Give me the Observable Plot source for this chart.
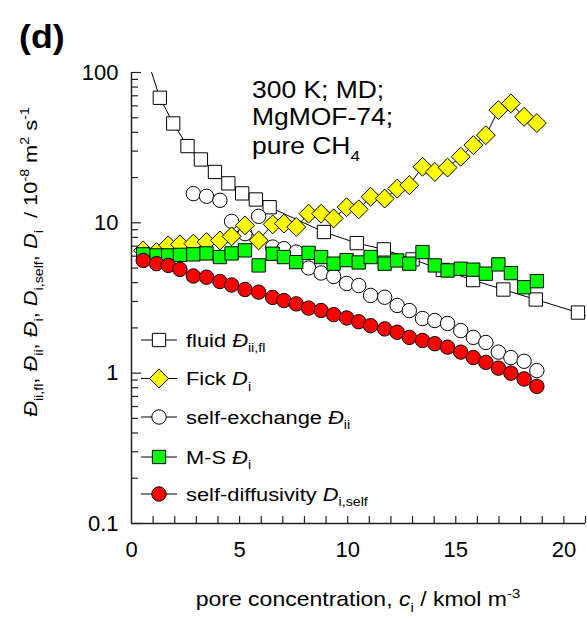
<!DOCTYPE html>
<html><head><meta charset="utf-8">
<script src="https://cdn.jsdelivr.net/npm/d3@7"></script>
<script src="https://cdn.jsdelivr.net/npm/@observablehq/plot@0.6"></script>
<style>body{margin:0;background:#fff;} svg{display:block;}</style>
</head><body><div id="chart"></div>
<script>
const FONT = "'Liberation Sans', Arial, Helvetica, sans-serif";

// fluid Đii,fl (open squares, joined by a line)
const fluidX = [1.31,1.93,2.59,3.21,3.86,4.48,5.12,5.75,6.39,8.90,10.42,11.67,13.0,14.4,15.8,17.2,18.7,20.65];
const fluidY = [67.9,45.8,32.4,26.4,21.8,18.3,15.7,14.3,12.7,8.69,7.33,6.66,5.71,4.86,4.16,3.60,3.09,2.53];
// visible ends of the fluid curve
const fluidCurveStart = [0.93, 100];
const fluidCurveEnd = [21.0, 2.42];

// MD loadings (Fick, M-S, self-diffusivity)
const loading = [0.54,1.16,1.70,2.24,2.86,3.47,4.09,4.63,5.25,5.88,6.53,7.05,7.62,8.19,8.77,9.35,9.95,10.51,11.06,11.71,12.29,12.85,13.46,14.03,14.62,15.23,15.81,16.39,16.97,17.55,18.16,18.75];
const fickY = [6.56,6.39,7.08,7.19,7.27,7.45,7.64,8.13,9.62,7.64,9.77,9.88,9.38,11.5,11.5,10.7,12.7,12.3,14.9,14.5,16.9,17.8,23.6,21.8,23.3,27.5,32.9,38.3,56.2,62.3,50.7,46.1];
const msY = [6.17,6.07,6.07,6.12,6.17,6.26,5.92,6.26,6.56,5.21,6.23,5.92,5.48,6.31,5.92,5.35,5.65,5.45,5.92,5.35,5.62,5.35,6.39,5.21,4.82,4.95,4.88,4.59,5.29,4.63,3.73,4.09];
const selfDiffY = [5.62,5.35,5.21,4.90,4.43,4.35,4.07,3.86,3.60,3.46,3.19,3.04,2.89,2.71,2.61,2.45,2.33,2.20,2.07,1.97,1.87,1.73,1.65,1.57,1.49,1.38,1.27,1.18,1.08,1.00,0.915,0.817];

// self-exchange Đii (open circles)
const selfExchX = [2.86,3.47,4.09,4.63,5.25,5.88,6.53,7.05,7.62,8.19,8.77,9.35,9.95,10.51,11.06,11.71,12.29,12.85,13.46,14.03,14.62,15.23,15.81,16.39,16.97,17.55,18.16,18.75];
const selfExchY = [15.65,15.02,14.13,10.23,8.47,11.05,6.90,6.73,6.39,5.01,4.64,4.40,3.95,3.83,3.29,3.20,2.82,2.61,2.31,2.24,2.14,1.92,1.73,1.60,1.38,1.27,1.20,1.04];

// ticks
const xTicks = [0,5,10,15,20];
const xMinorTicks = [1,2,3,4,5,6,7,8,9,10,11,12,13,14,15,16,17,18,19,20,21];
const yTicks = [0.1,1,10,100];
const yMinorTicks = [0.2,0.3,0.4,0.5,0.6,0.7,0.8,0.9,2,3,4,5,6,7,8,9,20,30,40,50,60,70,80,90];

// build tables
const fluidPts = fluidX.map((x, i) => ({x, y: fluidY[i]}));
const fluidCurve = [{x: fluidCurveStart[0], y: fluidCurveStart[1]}, ...fluidPts, {x: fluidCurveEnd[0], y: fluidCurveEnd[1]}];
const fick = loading.map((x, i) => ({x, y: fickY[i]}));
const ms = loading.map((x, i) => ({x, y: msY[i]}));
const selfDiff = loading.map((x, i) => ({x, y: selfDiffY[i]}));
const selfExch = selfExchX.map((x, i) => ({x, y: selfExchY[i]}));

const YELLOW = "#ffff00", GREEN = "#00ff00", RED = "#ff0000";
const R_SQ = 7.5, R_DIA = 8.5, R_CIR = 7.2;

const chart = Plot.plot({
  width: 587, height: 617,
  marginLeft: 131, marginRight: 2, marginTop: 72, marginBottom: 94,
  style: {fontFamily: FONT, background: "white", overflow: "visible", color: "black"},
  x: {domain: [0, 21], label: null},
  y: {type: "log", domain: [0.1, 100], label: null},
  marks: [
    Plot.axisX({ticks: xTicks, tickSize: 0, tickPadding: 18, fontSize: 22, tickFormat: d => String(d), label: null}),
    Plot.axisY({ticks: yTicks, tickSize: 0, tickPadding: 13, fontSize: 22, tickFormat: d => String(d), label: null}),
    Plot.ruleX(xMinorTicks, {x: d => d, y1: 0.1, y2: 0.1, insetBottom: 7, stroke: "#222", strokeWidth: 1.2}),
    Plot.ruleY(yMinorTicks, {y: d => d, x1: 0, x2: 0, insetRight: -7, stroke: "#222", strokeWidth: 1.2}),
    Plot.ruleY(yTicks, {y: d => d, x1: 0, x2: 0, insetRight: -10, stroke: "#222", strokeWidth: 1.2}),
    Plot.ruleX([0], {stroke: "#222", strokeWidth: 1.5}),
    Plot.ruleY([0.1], {stroke: "#222", strokeWidth: 1.5}),
    // fluid
    Plot.line(fluidCurve, {x: "x", y: "y", stroke: "black", strokeWidth: 1}),
    Plot.dot(fluidPts, {x: "x", y: "y", symbol: "square", r: R_SQ, fill: "white", stroke: "black", strokeWidth: 1}),
    // self-exchange
    Plot.dot(selfExch, {x: "x", y: "y", symbol: "circle", r: R_CIR, fill: "white", stroke: "black", strokeWidth: 1}),
    // Fick
    Plot.line(fick, {x: "x", y: "y", stroke: "black", strokeWidth: 1}),
    Plot.dot(fick, {x: "x", y: "y", symbol: "diamond2", r: R_DIA, fill: YELLOW, stroke: "black", strokeWidth: 1}),
    // M-S
    Plot.dot(ms, {x: "x", y: "y", symbol: "square", r: R_SQ, fill: GREEN, stroke: "black", strokeWidth: 1}),
    // self-diffusivity
    Plot.dot(selfDiff, {x: "x", y: "y", symbol: "circle", r: R_CIR, fill: RED, stroke: "black", strokeWidth: 1})
  ]
});
document.getElementById("chart").appendChild(chart);

const svg = d3.select(chart);
const STRETCH = 1.15;

function richText(parent, segs, {x, y, size, anchor = "start", rotate = 0, stretch = STRETCH, weight = "normal"}) {
  const t = parent.append("text")
    .attr("transform", `translate(${x},${y})` + (rotate ? ` rotate(${rotate})` : "") + ` scale(${stretch},1)`)
    .attr("text-anchor", anchor)
    .attr("font-family", FONT)
    .attr("font-size", size)
    .attr("font-weight", weight)
    .attr("fill", "black");
  let shift = 0;
  for (const s of segs) {
    const target = s.sub ? 0.3 * size : s.sup ? -0.42 * size : 0;
    const ts = t.append("tspan").text(s.t)
      .attr("dy", target - shift)
      .attr("font-size", (s.sub || s.sup) ? size * 0.65 : size);
    if (s.i) ts.attr("font-style", "italic");
    shift = target;
  }
  return t;
}

// panel label
richText(svg, [{t: "(d)"}], {x: 19, y: 48, size: 34, weight: "bold", stretch: 1.05});

// annotation
richText(svg, [{t: "300 K; MD;"}], {x: 252, y: 98, size: 23});
richText(svg, [{t: "MgMOF-74;"}], {x: 252, y: 125, size: 23});
richText(svg, [{t: "pure CH"}, {t: "4", sub: 1}], {x: 252, y: 154, size: 23});

// axis titles
richText(svg, [{t: "pore concentration, "}, {t: "c", i: 1}, {t: "i", sub: 1}, {t: " / kmol m"}, {t: "-3", sup: 1}],
  {x: 358, y: 606, size: 20, anchor: "middle"});
richText(svg, [
  {t: "Đ", i: 1}, {t: "ii,fl", sub: 1}, {t: ", "},
  {t: "Đ", i: 1}, {t: "ii", sub: 1}, {t: ", "},
  {t: "Đ", i: 1}, {t: "i", sub: 1}, {t: ", "},
  {t: "D", i: 1}, {t: "i,self", sub: 1}, {t: ", "},
  {t: "D", i: 1}, {t: "i", sub: 1}, {t: "  / 10"}, {t: "-8", sup: 1},
  {t: " m"}, {t: "2", sup: 1}, {t: " s"}, {t: "-1", sup: 1}
], {x: 37, y: 262, size: 19, anchor: "middle", rotate: -90});

// legend
const legendItems = [
  {segs: [{t: "fluid "}, {t: "Đ", i: 1}, {t: "ii,fl", sub: 1}], sym: d3.symbolSquare, r: R_SQ, fill: "white", y: 340},
  {segs: [{t: "Fick "}, {t: "D", i: 1}, {t: "i", sub: 1}], sym: d3.symbolDiamond2, r: R_DIA, fill: YELLOW, y: 378.5},
  {segs: [{t: "self-exchange "}, {t: "Đ", i: 1}, {t: "ii", sub: 1}], sym: d3.symbolCircle, r: R_CIR, fill: "white", y: 417},
  {segs: [{t: "M-S "}, {t: "Đ", i: 1}, {t: "i", sub: 1}], sym: d3.symbolSquare, r: R_SQ, fill: GREEN, y: 457},
  {segs: [{t: "self-diffusivity "}, {t: "D", i: 1}, {t: "i,self", sub: 1}], sym: d3.symbolCircle, r: R_CIR, fill: RED, y: 494}
];
const lg = svg.append("g");
for (const it of legendItems) {
  lg.append("line").attr("x1", 141).attr("x2", 177).attr("y1", it.y).attr("y2", it.y)
    .attr("stroke", "black").attr("stroke-width", 1);
  lg.append("path").attr("transform", `translate(159,${it.y})`)
    .attr("d", d3.symbol(it.sym, Math.PI * it.r * it.r)())
    .attr("fill", it.fill).attr("stroke", "black").attr("stroke-width", 1);
  richText(lg, it.segs, {x: 186, y: it.y + 6.5, size: 19});
}
</script>
</body></html>
